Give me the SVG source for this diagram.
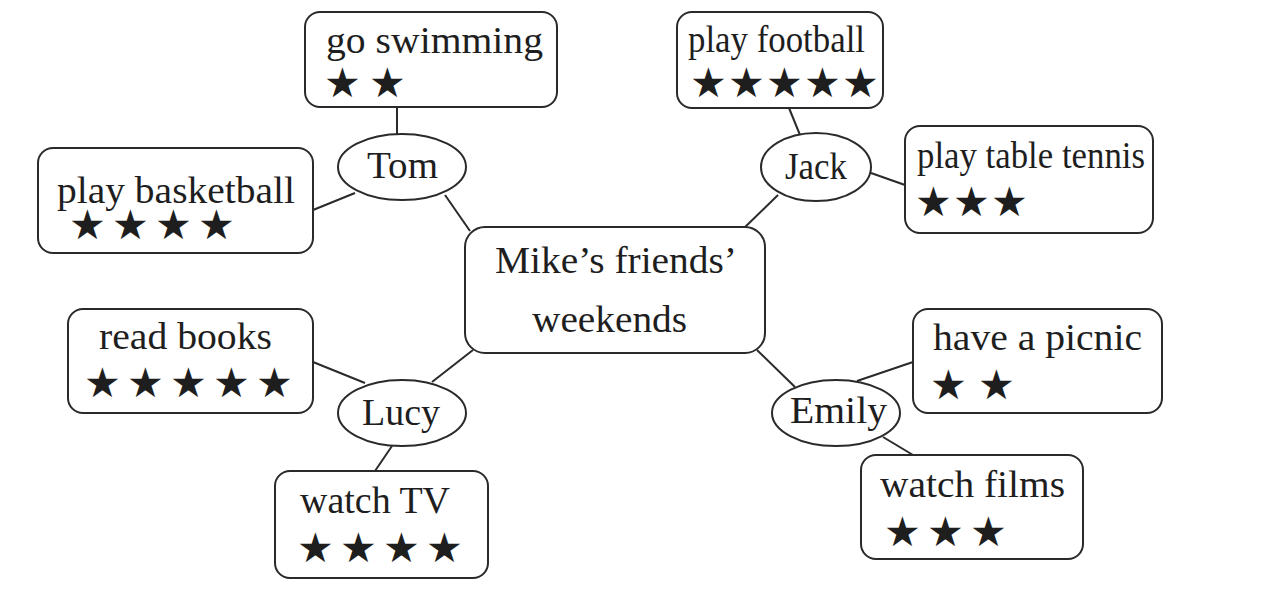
<svg xmlns="http://www.w3.org/2000/svg" width="1267" height="590" viewBox="0 0 1267 590">
<style>
.box{fill:#fff;stroke:#2a2a2a;stroke-width:2}
.ell{fill:#fff;stroke:#2a2a2a;stroke-width:2}
.t{font-family:"Liberation Serif","Times New Roman",serif;font-size:38px;fill:#1e1e1e}
.s{font-family:"DejaVu Sans",sans-serif;font-size:41px;fill:#1e1e1e}
.c line{stroke:#2a2a2a;stroke-width:2}
</style>
<rect width="1267" height="590" fill="#fff"/>
<g class="c" id="connectors">
<line x1="397" y1="107" x2="397" y2="134"/>
<line x1="355" y1="193" x2="313" y2="210"/>
<line x1="445" y1="195" x2="470" y2="231"/>
<line x1="789" y1="108" x2="800" y2="135"/>
<line x1="871" y1="173" x2="905" y2="185"/>
<line x1="778" y1="195" x2="742" y2="230"/>
<line x1="313" y1="362" x2="365" y2="383"/>
<line x1="432" y1="382" x2="473" y2="350"/>
<line x1="392" y1="446" x2="375" y2="471"/>
<line x1="757" y1="350" x2="795" y2="387"/>
<line x1="857" y1="381" x2="913" y2="362"/>
<line x1="883" y1="437" x2="913" y2="455"/>
</g>
<g id="center">
<rect class="box" x="465" y="227" width="300" height="126" rx="20"/>
<text class="t" x="495" y="273" textLength="242" lengthAdjust="spacingAndGlyphs">Mike’s friends’</text>
<text class="t" x="532" y="332" textLength="155" lengthAdjust="spacingAndGlyphs">weekends</text>
</g>
<g id="tom"><ellipse class="ell" cx="402" cy="167" rx="64" ry="33"/><text class="t" x="367" y="178" textLength="71" lengthAdjust="spacingAndGlyphs">Tom</text></g>
<g id="jack"><ellipse class="ell" cx="816" cy="167" rx="55" ry="34"/><text class="t" x="785" y="179" textLength="62" lengthAdjust="spacingAndGlyphs">Jack</text></g>
<g id="lucy"><ellipse class="ell" cx="402" cy="413" rx="64" ry="33"/><text class="t" x="362" y="425" textLength="78" lengthAdjust="spacingAndGlyphs">Lucy</text></g>
<g id="emily"><ellipse class="ell" cx="836" cy="413" rx="64" ry="33"/><text class="t" x="790" y="423" textLength="97" lengthAdjust="spacingAndGlyphs">Emily</text></g>
<g id="swimming"><rect class="box" x="305" y="12" width="252" height="95" rx="15"/><text class="t" x="326" y="53" textLength="217" lengthAdjust="spacingAndGlyphs">go swimming</text><text class="s" x="324 369" y="97">★★</text></g>
<g id="football"><rect class="box" x="677" y="12" width="206" height="96" rx="15"/><text class="t" x="688" y="52" textLength="177" lengthAdjust="spacingAndGlyphs">play football</text><text class="s" x="690 728 766 804 842" y="97">★★★★★</text></g>
<g id="tabletennis"><rect class="box" x="905" y="126" width="248" height="107" rx="15"/><text class="t" x="917" y="168" textLength="228" lengthAdjust="spacingAndGlyphs">play table tennis</text><text class="s" x="915 953 991" y="216">★★★</text></g>
<g id="basketball"><rect class="box" x="38" y="148" width="275" height="105" rx="15"/><text class="t" x="57" y="203" textLength="238" lengthAdjust="spacingAndGlyphs">play basketball</text><text class="s" x="69 112 155 198" y="239">★★★★</text></g>
<g id="readbooks"><rect class="box" x="68" y="309" width="245" height="104" rx="15"/><text class="t" x="99" y="349" textLength="173" lengthAdjust="spacingAndGlyphs">read books</text><text class="s" x="84 127 170 213 256" y="397">★★★★★</text></g>
<g id="watchtv"><rect class="box" x="275" y="471" width="213" height="107" rx="15"/><text class="t" x="300" y="513" textLength="150" lengthAdjust="spacingAndGlyphs">watch TV</text><text class="s" x="297 340 383 426" y="562">★★★★</text></g>
<g id="picnic"><rect class="box" x="913" y="309" width="249" height="104" rx="15"/><text class="t" x="933" y="350" textLength="209" lengthAdjust="spacingAndGlyphs">have a picnic</text><text class="s" x="930 978" y="399">★★</text></g>
<g id="films"><rect class="box" x="861" y="455" width="222" height="104" rx="15"/><text class="t" x="880" y="497" textLength="185" lengthAdjust="spacingAndGlyphs">watch films</text><text class="s" x="884 927 970" y="546">★★★</text></g>
</svg>
